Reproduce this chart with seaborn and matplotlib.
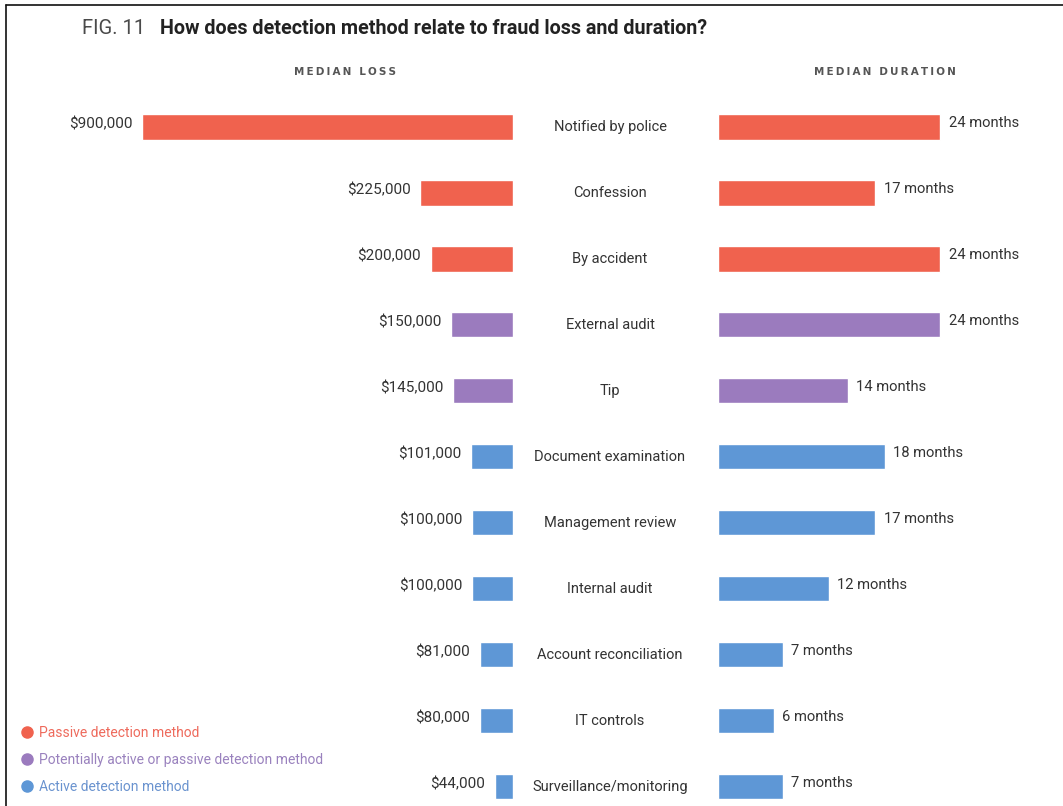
import matplotlib
matplotlib.use("Agg")
import matplotlib.pyplot as plt
import matplotlib.transforms as mtransforms
from matplotlib.lines import Line2D
import seaborn as sns
import pandas as pd

methods = ["Notified by police", "Confession", "By accident", "External audit", "Tip",
           "Document examination", "Management review", "Internal audit",
           "Account reconciliation", "IT controls", "Surveillance/monitoring"]
median_loss = [900000, 225000, 200000, 150000, 145000, 101000, 100000, 100000, 81000, 80000, 44000]
median_duration = [24, 17, 24, 24, 14, 18, 17, 12, 7, 6, 7]
detection_type = ["Passive detection method"] * 3 + \
                 ["Potentially active or passive detection method"] * 2 + \
                 ["Active detection method"] * 6
type_labels = ["Passive detection method",
               "Potentially active or passive detection method",
               "Active detection method"]
type_colors = ["#F0624E", "#9B7BBE", "#5E97D6"]
legend_text_colors = ["#EE6A5C", "#9A82BE", "#6A93CF"]

sns.set_theme(style="white")
FONT = ["Roboto", "DejaVu Sans"]
plt.rcParams["font.family"] = FONT

df = pd.DataFrame({"method": methods, "loss": median_loss,
                   "duration": median_duration, "type": detection_type})
palette = dict(zip(type_labels, type_colors))

W, H = 1063, 806
fig = plt.figure(figsize=(W / 100, H / 100), dpi=100)
fig.patch.set_facecolor("white")

top = 1 - 94 / H
ax_l = fig.add_axes([20 / W, 0, 493 / W, top])
ax_r = fig.add_axes([718 / W, 0, 325 / W, top])

sns.barplot(data=df, y="method", x="loss", hue="type", palette=palette, order=methods,
            hue_order=type_labels, dodge=False, legend=False, width=0.38, orient="h",
            saturation=1, ax=ax_l)
sns.barplot(data=df, y="method", x="duration", hue="type", palette=palette, order=methods,
            hue_order=type_labels, dodge=False, legend=False, width=0.38, orient="h",
            saturation=1, ax=ax_r)

ax_l.set_xlim(1196000, 0)
ax_r.set_xlim(0, 35.1)
for ax in (ax_l, ax_r):
    ax.set_ylim(10.29, -0.5)
    ax.set_axis_off()

txt = "#333333"
for i, (m, v, d) in enumerate(zip(methods, median_loss, median_duration)):
    ax_l.annotate(f"${v:,}", xy=(v, i), xytext=(-7, 2), textcoords="offset points",
                  ha="right", va="center", fontsize=11, color=txt)
    ax_r.annotate(f"{d} months", xy=(d, i), xytext=(6, 3), textcoords="offset points",
                  ha="left", va="center", fontsize=10.6, color=txt)

trans = mtransforms.blended_transform_factory(fig.transFigure, ax_l.transData)
for i, m in enumerate(methods):
    fig.text(610 / W, i, m, transform=trans, ha="center", va="center",
             fontsize=10.5, color=txt)

# Title
fig.text(82 / W, 1 - 28 / H, "FIG. 11", ha="left", va="center", fontsize=14.5,
         color="#4a4a4a")
fig.text(160 / W, 1 - 28 / H, "How does detection method relate to fraud loss and duration?",
         ha="left", va="center", fontsize=14.2, fontweight="bold", color="#222222")

# Column headers
def spaced(s):
    return "\u2009".join(list(s))

fig.text(345 / W, 1 - 72 / H, spaced("MEDIAN LOSS"), ha="center", va="center",
         fontsize=7.5, fontweight="bold", color="#555555", family=["DejaVu Sans"])
fig.text(885 / W, 1 - 72 / H, spaced("MEDIAN DURATION"), ha="center", va="center",
         fontsize=7.5, fontweight="bold", color="#555555", family=["DejaVu Sans"])

# Legend
handles = [Line2D([0], [0], marker="o", linestyle="none", markersize=8,
                  markerfacecolor=c, markeredgecolor=c) for c in type_colors]
leg = fig.legend(handles, type_labels, loc="upper left",
                 bbox_to_anchor=(20 / W, 1 - 726 / H), frameon=False,
                 handletextpad=0.4, handlelength=1.0, labelspacing=0.92,
                 fontsize=10, borderaxespad=0, borderpad=0)
for t, c in zip(leg.get_texts(), legend_text_colors):
    t.set_color(c)

# Frame lines (top and left)
fig.add_artist(Line2D([6 / W, 1], [1 - 5 / H, 1 - 5 / H], transform=fig.transFigure,
                      color="#111111", linewidth=1.2))
fig.add_artist(Line2D([6 / W, 6 / W], [0, 1 - 5 / H], transform=fig.transFigure,
                      color="#111111", linewidth=1.2))

fig.savefig("out.png", dpi=100, facecolor="white")
